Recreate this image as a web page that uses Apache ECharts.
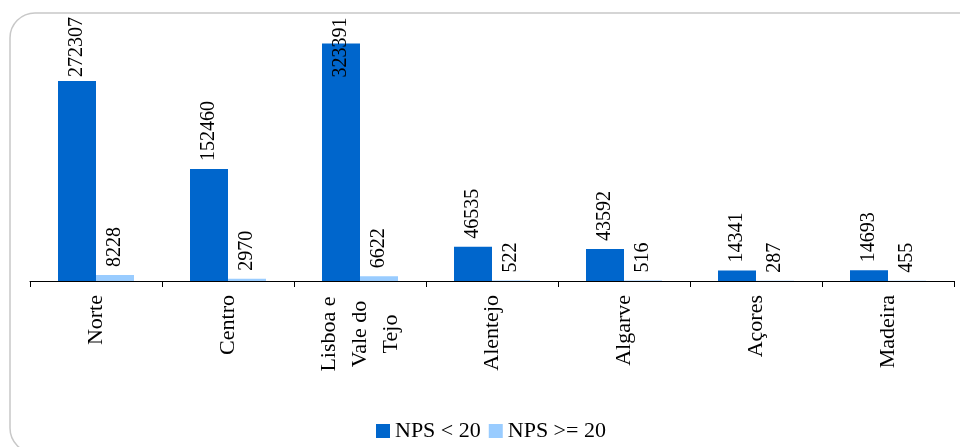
<!DOCTYPE html>
<html>
<head>
<meta charset="utf-8">
<script src="https://cdn.jsdelivr.net/npm/echarts@6/dist/echarts.min.js"></script>
<style>
html,body{margin:0;padding:0;background:#fff;}
#chart{width:960px;height:447px;}
</style>
</head>
<body>
<div id="chart"></div>
<script>
const categories = ['Norte', 'Centro', 'Lisboa e Vale do Tejo', 'Alentejo', 'Algarve', 'Açores', 'Madeira'];
const seriesNames = ['NPS < 20', 'NPS >= 20'];
const npsBelow20 = [272307, 152460, 323391, 46535, 43592, 14341, 14693];
const npsAtLeast20 = [8228, 2970, 6622, 522, 516, 287, 455];

const SERIF = '"Liberation Serif", "Times New Roman", serif';
const chart = echarts.init(document.getElementById('chart'), null, {renderer: 'canvas'});

// labels pushed inside the plot area where they would overflow at the top
const labelDistanceOverride = {0: 4, 2: -34};

function valueLabel() {
  return {
    show: true,
    position: 'top',
    rotate: 90,
    align: 'left',
    verticalAlign: 'middle',
    distance: 8,
    color: '#000',
    fontFamily: SERIF,
    fontSize: 20
  };
}

const option = {
  animation: false,
  backgroundColor: '#fff',
  graphic: [{
    type: 'rect',
    position: [10, 13],
    shape: {x: 0, y: 0, width: 975, height: 440, r: 25},
    style: {fill: 'none', stroke: '#c8c8c8', lineWidth: 1.5},
    z: -1
  }],
  grid: {left: 30, right: 6, top: 24, bottom: 166, containLabel: false},
  legend: {
    data: seriesNames,
    top: 415,
    left: 371,
    itemWidth: 14,
    itemHeight: 14,
    itemGap: 8,
    icon: 'rect',
    textStyle: {fontFamily: SERIF, fontSize: 22, color: '#000'}
  },
  xAxis: {
    type: 'category',
    data: categories,
    axisLine: {lineStyle: {color: '#000', width: 1}},
    axisTick: {show: true, length: 6, lineStyle: {color: '#000'}},
    axisLabel: {
      rotate: 90,
      margin: 14,
      interval: 0,
      color: '#000',
      fontFamily: SERIF,
      fontSize: 22,
      lineHeight: 31,
      formatter: function (v) {
        if (v.indexOf('Lisboa') === 0) {
          return ['Lisboa e', 'Vale do', 'Tejo'].map(s => '{m|' + s + '}').join('\n');
        }
        return v;
      },
      rich: {
        m: {width: 78, align: 'center', fontFamily: SERIF, fontSize: 22, lineHeight: 31, color: '#000'}
      }
    }
  },
  yAxis: {
    type: 'value',
    min: 0,
    max: 350000,
    show: false,
    splitLine: {show: false}
  },
  series: [
    {
      name: seriesNames[0],
      type: 'bar',
      barWidth: 38,
      barGap: '0%',
      itemStyle: {color: '#0066CC'},
      label: valueLabel(),
      data: npsBelow20.map((v, i) => labelDistanceOverride[i] !== undefined
        ? {value: v, label: {distance: labelDistanceOverride[i]}}
        : v)
    },
    {
      name: seriesNames[1],
      type: 'bar',
      barWidth: 38,
      barGap: '0%',
      itemStyle: {color: '#99CCFF'},
      label: valueLabel(),
      data: npsAtLeast20
    }
  ]
};
chart.setOption(option);
</script>
</body>
</html>
